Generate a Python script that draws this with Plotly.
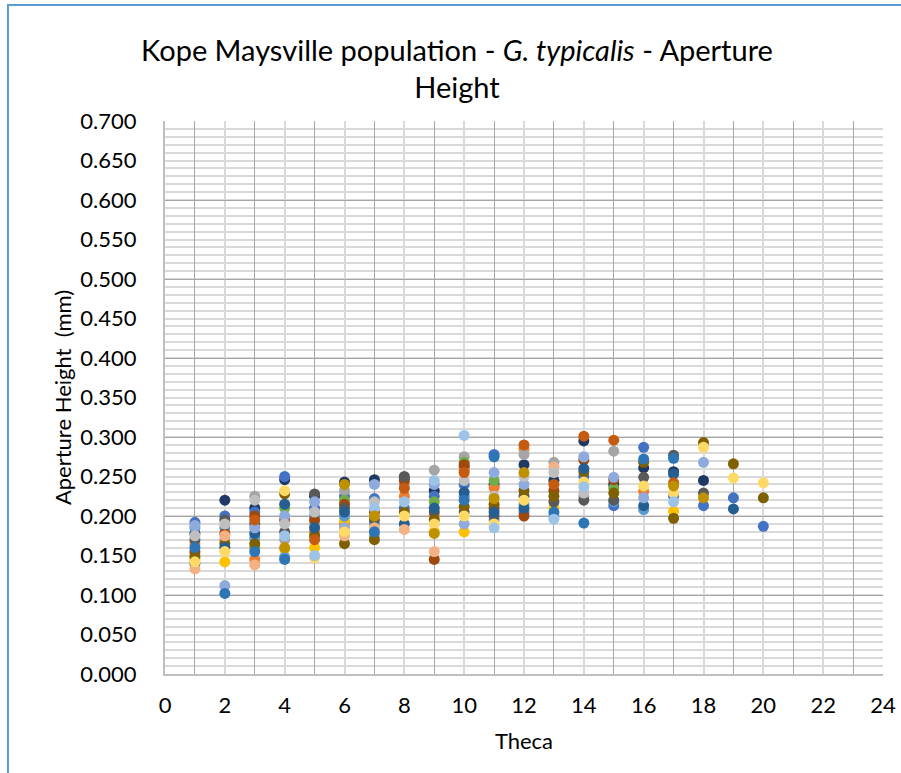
import plotly.graph_objects as go

theca = list(range(1, 21))

# Aperture height (mm) per specimen, theca 1..20 (None = no measurement)
s_a = [0.178, 0.220, 0.210, 0.246, 0.225, 0.243, 0.246, 0.248, 0.232, 0.262, 0.240, 0.265, 0.245, 0.295, 0.240, 0.261, 0.256, 0.245, None, None]
s_b = [0.192, 0.200, 0.205, 0.250, 0.210, 0.225, 0.222, 0.210, 0.225, 0.240, 0.278, 0.205, None, 0.250, 0.213, 0.287, 0.225, 0.213, 0.223, 0.187]
s_c = [0.165, None, 0.145, None, 0.180, 0.190, None, 0.225, 0.200, 0.258, 0.236, 0.285, None, None, None, 0.231, None, None, None, None]
s_d = [0.152, 0.170, 0.225, 0.170, 0.190, 0.232, 0.175, 0.240, 0.258, 0.275, None, 0.278, 0.268, 0.225, 0.282, None, None, None, None, None]
s_e = [0.145, 0.142, None, 0.158, 0.160, 0.195, None, None, 0.180, 0.180, None, None, 0.210, None, None, None, 0.206, None, None, None]
s_f = [0.185, 0.185, 0.172, 0.148, 0.200, 0.200, 0.190, None, None, 0.225, 0.195, 0.215, 0.200, None, 0.218, 0.208, None, None, None, None]
s_g = [None, None, 0.160, 0.210, None, 0.220, None, None, 0.218, 0.268, 0.245, None, None, None, 0.235, None, None, None, None, None]
s_h = [0.155, 0.178, 0.200, 0.195, 0.195, 0.215, 0.205, 0.245, 0.145, 0.265, 0.210, 0.200, 0.232, 0.271, 0.246, None, None, None, None, None]
s_i = [0.170, 0.195, 0.190, 0.180, 0.228, 0.210, 0.195, 0.250, 0.205, 0.205, 0.200, 0.225, 0.218, 0.220, 0.220, 0.249, 0.277, 0.229, None, None]
s_j = [0.148, 0.165, 0.165, 0.228, 0.175, 0.165, 0.170, 0.205, 0.195, 0.212, 0.215, 0.232, 0.225, 0.256, 0.229, 0.268, 0.197, 0.293, 0.266, 0.223]
s_k = [0.140, 0.160, 0.178, 0.215, 0.185, 0.205, None, 0.190, 0.210, 0.230, 0.205, 0.210, None, 0.260, None, 0.213, 0.253, None, 0.209, None]
s_l = [0.188, 0.112, 0.185, 0.200, 0.218, 0.185, 0.240, None, 0.240, 0.190, 0.255, 0.240, None, 0.275, 0.249, 0.223, None, 0.268, None, None]
s_m = [0.133, 0.175, 0.138, None, None, 0.175, 0.185, 0.183, 0.155, None, None, None, 0.262, None, None, None, None, None, None, None]
s_n = [0.175, 0.190, 0.220, 0.190, 0.205, None, 0.218, None, None, 0.245, 0.225, 0.250, 0.255, 0.229, None, None, None, None, None, None]
s_o = [0.142, 0.155, None, 0.232, 0.147, 0.180, None, 0.200, 0.190, 0.200, 0.190, 0.220, None, 0.243, None, 0.238, 0.229, 0.287, 0.248, 0.242]
s_p = [None, None, 0.195, None, 0.170, None, None, 0.235, None, 0.255, None, 0.290, 0.240, 0.301, 0.296, None, 0.242, None, None, None]
s_q = [0.160, 0.102, 0.155, 0.145, None, None, 0.180, None, None, 0.220, 0.275, None, 0.205, 0.191, None, 0.272, 0.273, None, None, None]
s_r = [None, None, None, 0.175, 0.150, None, 0.210, 0.218, 0.245, 0.302, 0.185, None, 0.196, 0.237, None, None, 0.218, None, None, None]
s_s = [None, None, None, 0.160, None, 0.240, 0.200, None, 0.178, None, 0.222, 0.255, None, None, None, None, 0.238, 0.223, None, None]

series = [s_a, s_b, s_c, s_d, s_e, s_f, s_g, s_h, s_i, s_j, s_k, s_l, s_m, s_n, s_o, s_p, s_q, s_r, s_s]
colors = ["#1F3864", "#4472C4", "#ED7D31", "#A5A5A5", "#FFC000", "#5B9BD5", "#70AD47",
          "#9E480E", "#595959", "#7F6000", "#255E91", "#8FAADC", "#F4B183", "#BFBFBF",
          "#FFD966", "#C55A11", "#2E75B6", "#9DC3E6", "#BF9000"]

x_ticks = list(range(0, 25, 2))
y_ticks = [round(0.05 * i, 2) for i in range(15)]
y_labels = [f"{v:.3f}" for v in y_ticks]

FONT = "Lato, 'Open Sans', sans-serif"

fig = go.Figure()
for vals, col in zip(series, colors):
    fig.add_trace(go.Scatter(
        x=theca, y=vals, mode="markers",
        marker=dict(size=11, color=col, line=dict(width=0)),
        showlegend=False, hoverinfo="x+y"))

# invisible trace to anchor the overlay axes (dark gridlines)
fig.add_trace(go.Scatter(x=[None], y=[None], xaxis="x2", yaxis="y2", showlegend=False))

light = "#D9D9D9"
dark = "#A6A6A6"

fig.update_layout(
    width=901, height=773,
    paper_bgcolor="white", plot_bgcolor="white",
    margin=dict(l=165, r=18, t=121, b=99, autoexpand=False),
    font=dict(family=FONT, color="#000000"),
    title=dict(
        text="Kope Maysville population - <i>G. typicalis</i> - Aperture<br>Height",
        x=0.4067, xref="paper", xanchor="center",
        y=0.9215, yref="container", yanchor="top",
        font=dict(size=29, family=FONT, color="#000000")),
    xaxis=dict(
        range=[0, 24], tickvals=x_ticks, ticktext=[str(v) for v in x_ticks],
        showgrid=True, gridcolor=light, gridwidth=1.5, automargin=False,
        showline=True, linecolor="#BFBFBF", linewidth=2,
        ticks="", ticklabelstandoff=11, zeroline=False,
        tickfont=dict(size=22, family=FONT),
        title=dict(text="Theca", font=dict(size=22, family=FONT), standoff=16)),
    yaxis=dict(
        range=[0, 0.7], tickvals=y_ticks, ticktext=y_labels,
        showgrid=True, gridcolor=light, gridwidth=1.5, automargin=False,
        minor=dict(dtick=0.01, tick0=0, showgrid=True, gridcolor=light, gridwidth=1.5),
        showline=True, linecolor="#BFBFBF", linewidth=2,
        ticks="", ticklabelstandoff=22, zeroline=False,
        tickfont=dict(size=22, family=FONT),
        title=dict(text="Aperture Height \u00a0(mm)", font=dict(size=22, family=FONT), standoff=3)),
    xaxis2=dict(
        range=[0, 24], overlaying="x", side="bottom", tick0=1, dtick=2,
        showgrid=True, gridcolor=dark, gridwidth=1, showticklabels=False,
        ticks="", zeroline=False, showline=False, automargin=False),
    yaxis2=dict(
        range=[0, 0.7], overlaying="y", side="left", tick0=0, dtick=0.1,
        showgrid=True, gridcolor=dark, gridwidth=1, showticklabels=False,
        ticks="", zeroline=False, showline=False, automargin=False),
    shapes=[dict(type="rect", xref="paper", yref="paper",
                 x0=-0.2187, x1=1.1, y0=-0.25, y1=1.2098,
                 line=dict(color="#5B9BD5", width=2), fillcolor="rgba(0,0,0,0)",
                 layer="above")],
)

fig.write_html("out.html", config={"displayModeBar": False},
               post_script="document.body.style.margin='0';document.body.style.overflow='hidden';")
